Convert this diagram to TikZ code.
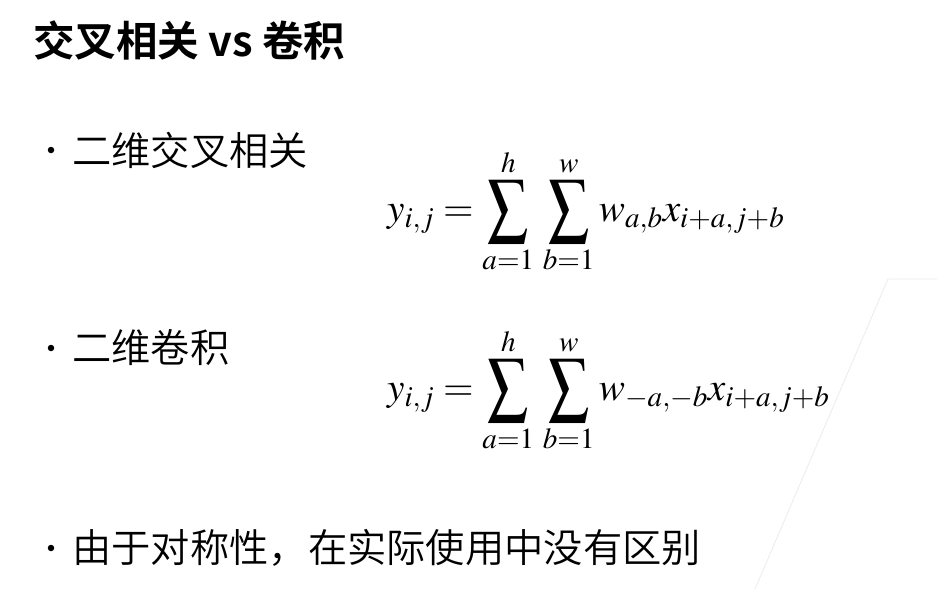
\documentclass[tikz,border=0pt]{standalone}
\usepackage{mathptmx}
\usepackage[no-math]{fontspec}
\setmainfont{Noto Sans CJK SC}[UprightFont={* DemiLight},BoldFont={* Bold}]
\usepackage{amsmath}
\usepackage{graphicx}
\newcommand{\tallsum}{\mathop{\vcenter{\hbox{\scalebox{1.02}[1.3]{$\displaystyle\sum$}}}}\limits}

\begin{document}
\begin{tikzpicture}[x=1pt,y=1pt]
\useasboundingbox (0,0) rectangle (937,-589);
\tikzset{dot/.style={circle,fill=black,inner sep=0pt,minimum size=6.5pt},
  item/.style={anchor=west,inner sep=0pt,font=\fontsize{39.3}{42}\selectfont},
  formula/.style={anchor=west,inner sep=0pt,font=\fontsize{39.3}{42}\selectfont}}
% title
\node[anchor=west,inner sep=0pt,font=\fontsize{41.5}{44}\selectfont\bfseries] (title) at (33,-40){交叉相关 vs 卷积};
% bullets
\node[dot] (b1) at (51,-150){};
\node[item] (t1) at (72,-150){二维交叉相关};
\node[dot] (b2) at (51,-348){};
\node[item] (t2) at (72,-348){二维卷积};
\node[dot] (b3) at (51,-548){};
\node[item] (t3) at (72,-548){由于对称性，在实际使用中没有区别};
% formulas
\node[formula] (f1) at (387,-211){$y_{i,j}=\tallsum_{a=1}^{h}\,\tallsum_{b=1}^{w}w_{a,b}x_{i+a,j+b}$};
\node[formula] (f2) at (387,-390){$y_{i,j}=\tallsum_{a=1}^{h}\,\tallsum_{b=1}^{w}w_{-a,-b}x_{i+a,j+b}$};
% faint frame line
\coordinate (c1) at (888,-279);
\coordinate (c2) at (755,-589);
\coordinate (c3) at (937,-279);
\draw[black!8,line width=0.8pt] (c2) -- (c1) -- (c3);
\end{tikzpicture}
\end{document}
